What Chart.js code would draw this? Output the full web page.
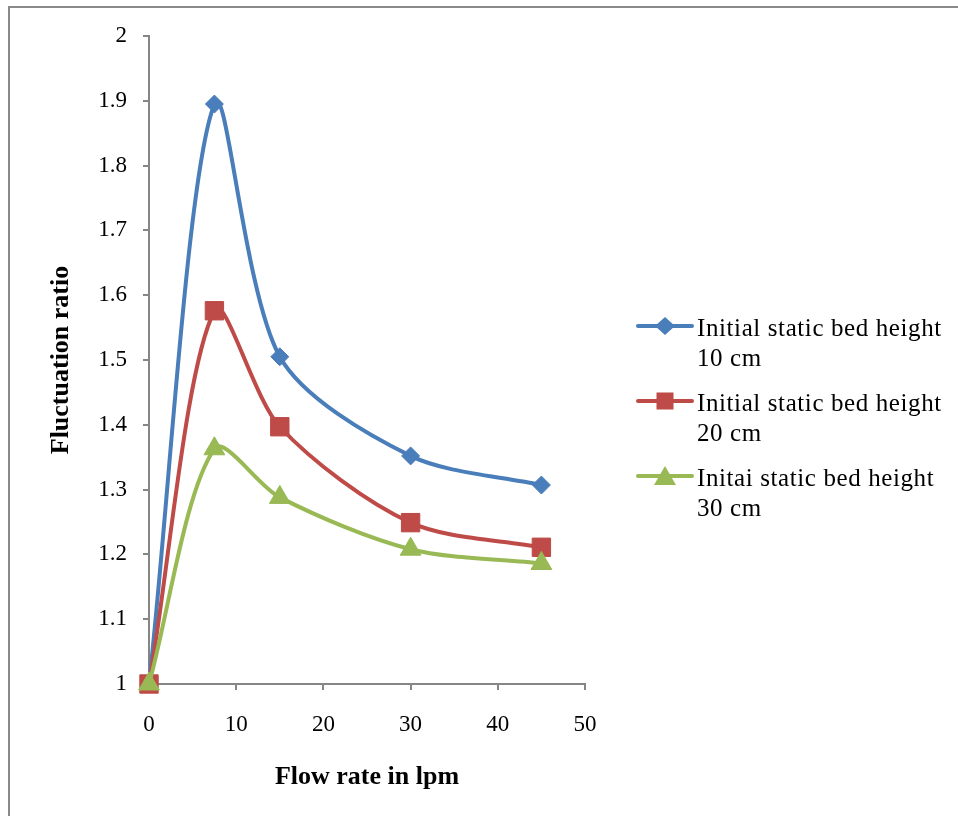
<!DOCTYPE html>
<html>
<head>
<meta charset="utf-8">
<script src="https://cdn.jsdelivr.net/npm/chart.js@4.4.0/dist/chart.umd.min.js"></script>
<style>
  html, body { margin: 0; padding: 0; background: #fff; }
  #wrap { position: relative; width: 958px; height: 816px; overflow: hidden; }
  #frame { position: absolute; left: 8px; top: 6px; width: 1000px; height: 900px;
           border-top: 2px solid #8a8a8a; border-left: 2px solid #8a8a8a; }
  canvas { position: absolute; left: 0; top: 0; }
  #legend { position: absolute; left: 636px; top: 313px; font-family: "Liberation Serif", "Times New Roman", serif;
            font-size: 25px; color: #000; line-height: 30px; letter-spacing: 0.6px; }
  .item { position: relative; padding-left: 61px; height: 60px; margin-bottom: 15px; }
  .item svg { position: absolute; left: 0; top: -14px; }
</style>
</head>
<body>
<div id="wrap">
  <div id="frame"></div>
  <canvas id="c" width="958" height="816"></canvas>
  <div id="legend"></div>
</div>
<script>
const flowRates = [0, 7.5, 15, 30, 45];
const bed10 = [1, 1.895, 1.505, 1.352, 1.307];
const bed20 = [1, 1.576, 1.397, 1.249, 1.211];
const bed30 = [1, 1.363, 1.288, 1.208, 1.186];
const seriesLabels = [["Initial static bed height", "10 cm"], ["Initial static bed height", "20 cm"], ["Initai static bed height", "30 cm"]];
const colors = ["#4A7EBB", "#BE4B48", "#98B954"];
const xTitle = "Flow rate in lpm";
const yTitle = "Fluctuation ratio";

const toPts = arr => flowRates.map((x, i) => ({x: x, y: arr[i]}));
const seriesValues = [bed10, bed20, bed30];
const styles = ['rectRot', 'rect', 'triangle'];
const radii = [9, 13, 12];

const datasets = seriesValues.map((vals, i) => ({
  label: seriesLabels[i].join(' '),
  data: toPts(vals),
  borderColor: colors[i],
  backgroundColor: colors[i],
  borderWidth: 4,
  pointStyle: styles[i],
  pointRadius: radii[i],
  pointBorderWidth: 1,
  pointBackgroundColor: colors[i],
  pointBorderColor: colors[i],
  tension: 0.3,
  clip: false,
  order: 3 - i
}));

const font = { family: "'Liberation Serif', 'Times New Roman', serif", size: 23 };
const titleFont = { family: "'Liberation Serif', 'Times New Roman', serif", size: 26, weight: 'bold' };
const axisColor = '#868686';
const fmt = v => String(+Number(v).toFixed(1));

new Chart(document.getElementById('c'), {
  type: 'line',
  data: { datasets },
  options: {
    responsive: false,
    animation: false,
    devicePixelRatio: 1,
    layout: { padding: { left: 0, top: 36, right: 373, bottom: 0 } },
    plugins: { legend: { display: false }, tooltip: { enabled: false } },
    scales: {
      x: {
        type: 'linear', min: 0, max: 50,
        ticks: { stepSize: 10, color: '#000', font, padding: 21, maxRotation: 0, callback: fmt },
        grid: { drawOnChartArea: false, drawTicks: true, tickLength: 6, color: axisColor, lineWidth: 2 },
        border: { color: axisColor, width: 2 },
        title: { display: true, text: xTitle, color: '#000', font: titleFont, padding: { top: 0, bottom: 23 } },
        afterFit: s => { s.height = 132; }
      },
      y: {
        type: 'linear', min: 1, max: 2,
        ticks: { stepSize: 0.1, color: '#000', font, padding: 16, callback: fmt },
        grid: { drawOnChartArea: false, drawTicks: true, tickLength: 6, color: axisColor, lineWidth: 2 },
        border: { color: axisColor, width: 2 },
        title: { display: true, text: yTitle, color: '#000', font: titleFont, padding: { top: 46, bottom: 0 } },
        afterFit: s => { s.width = 149; }
      }
    }
  }
});

// HTML legend
const legend = document.getElementById('legend');
const markerSvg = (i) => {
  const c = colors[i];
  let m = '';
  if (i === 0) m = `<polygon points="29,18 39,27 29,36 19,27" fill="${c}"/>`;
  else if (i === 1) m = `<rect x="20.5" y="18.5" width="17" height="17" fill="${c}"/>`;
  else m = `<polygon points="29,17 40,36 18,36" fill="${c}"/>`;
  return `<svg width="58" height="54" viewBox="0 0 58 54"><line x1="2" y1="27" x2="56" y2="27" stroke="${c}" stroke-width="4" stroke-linecap="round"/>${m}</svg>`;
};
seriesLabels.forEach((lab, i) => {
  const d = document.createElement('div');
  d.className = 'item';
  d.innerHTML = markerSvg(i) + `<div>${lab[0]}</div><div>${lab[1]}</div>`;
  legend.appendChild(d);
});
</script>
</body>
</html>
